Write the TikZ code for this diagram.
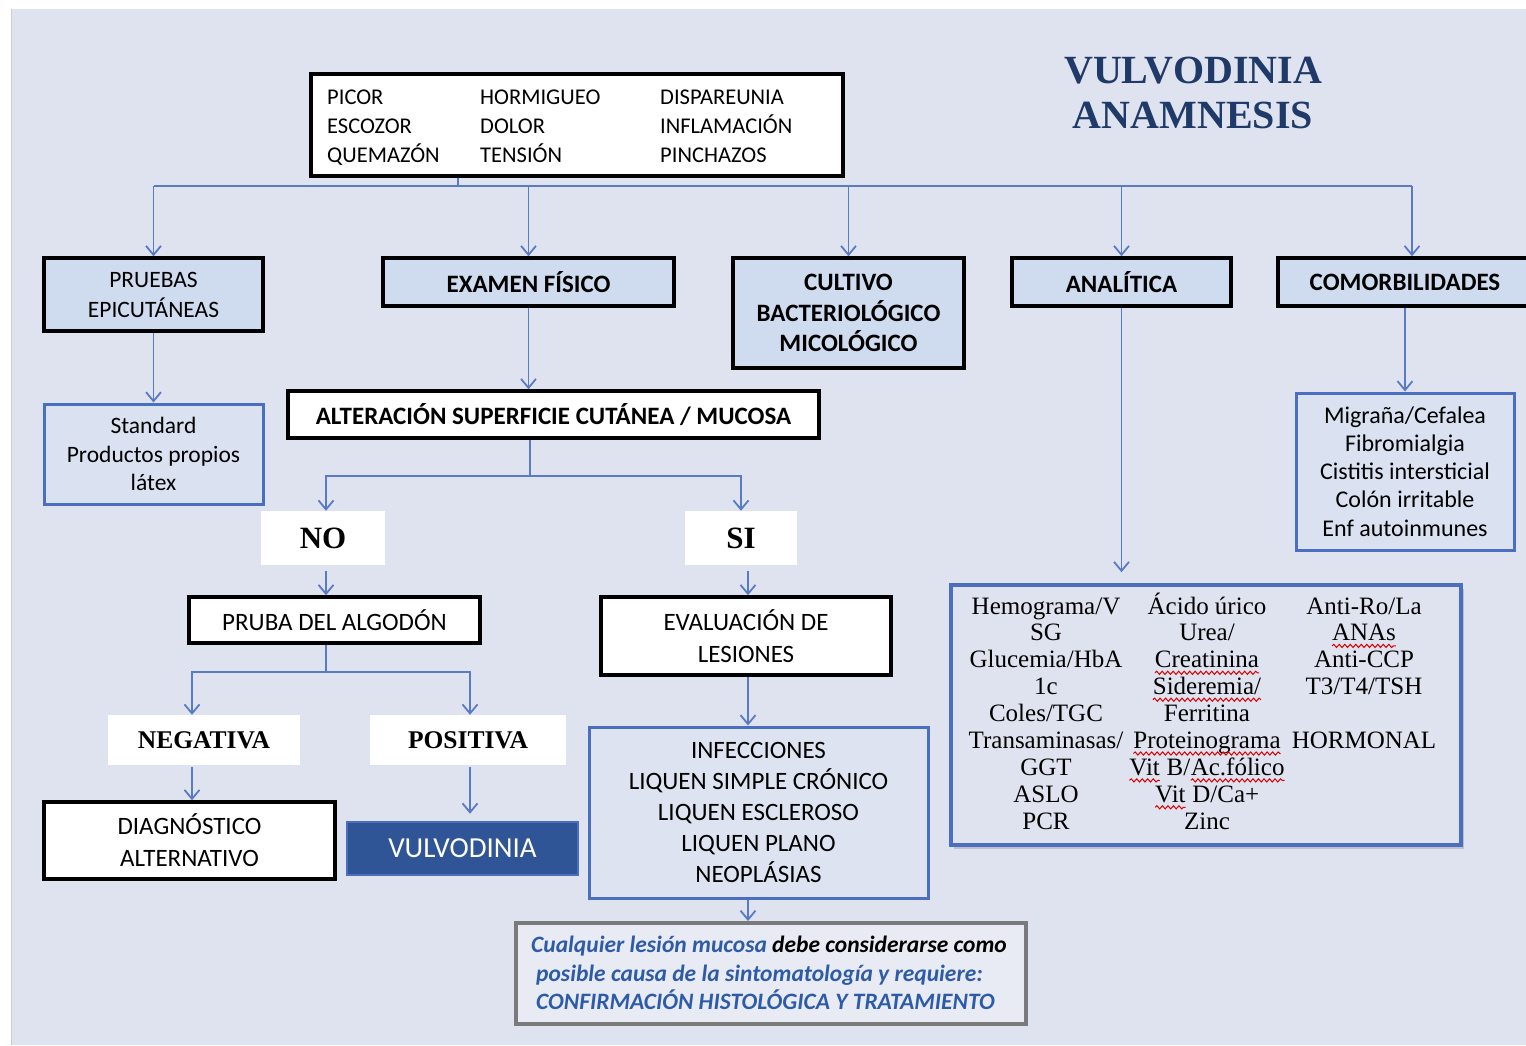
\documentclass[tikz,border=0pt]{standalone}
\usepackage{fontspec}
\usetikzlibrary{arrows.meta,shadows,calc,decorations.pathmorphing}
\setmainfont{Carlito}
\newfontfamily\serif{Liberation Serif}
\definecolor{bgc}{HTML}{DFE3EF}
\definecolor{boxblue}{HTML}{CFDBEF}
\definecolor{lightfill}{HTML}{DAE2F2}
\definecolor{lineblue}{HTML}{5A7AC6}
\definecolor{borderblue}{HTML}{4A6EC0}
\definecolor{darkblue}{HTML}{2F5597}
\definecolor{titleblue}{HTML}{1F3A68}
\definecolor{noteblue}{HTML}{2E5BA8}
\definecolor{notegray}{HTML}{7A7A7A}
\newcommand\fs[2]{\fontsize{#1}{#2}\selectfont}
\newcommand\redwave[1]{\tikz[baseline=(w.base)]{\node[inner sep=0pt,outer sep=0pt,anchor=base](w) at (0,0){#1};\draw[red!85!black, line width=1pt, decorate, decoration={snake,amplitude=1.6pt,segment length=5.5pt}] ([yshift=-5pt]w.base west) -- ([yshift=-5pt]w.base east);}}
\tikzset{
  blk/.style={draw=black, line width=3.5pt, fill=white, align=center, inner sep=0pt},
  blkfill/.style={blk, fill=boxblue},
  bluebox/.style={draw=borderblue, line width=3pt, fill=lightfill, align=center, inner sep=0pt},
  wlabel/.style={fill=white, draw=none, align=center, inner sep=0pt, font=\serif\bfseries\fs{25.5}{30}},
  wlabelbig/.style={wlabel, font=\serif\bfseries\fs{31}{36}},
  line/.style={draw=lineblue, line width=1.8pt},
  conn/.style={line, -{Straight Barb[length=9pt,width=15pt]}},
  reg/.style={font=\fs{25}{31.5}},
  bld/.style={font=\bfseries\fs{25}{30.5}},
  col/.style={anchor=base, inner sep=0pt, font=\serif\fs{25}{26.9}},
}
\begin{document}
\begin{tikzpicture}[x=1pt,y=-1pt]
\useasboundingbox (0,0) rectangle (1526,1045);
\fill[white] (0,0) rectangle (1526,1045);
\fill[bgc] (11,9) rectangle (1526,1045);
\draw[gray!40, line width=1pt] (11,9) -- (11,1045);

% title
\node[font=\serif\bfseries\fs{40}{45}, text=titleblue, align=center, inner sep=0pt] (title) at (1193,93) {VULVODINIA\\ANAMNESIS};

% symptoms box
\node[blk, minimum width=532pt, minimum height=102pt] (sym) at (577,125) {};
\node[anchor=west, inner sep=0pt, font=\fs{22.5}{29}] (symtxt) at (327,128) {\begin{tabular}{@{}p{153pt}@{}p{180pt}@{}l@{}}
PICOR & HORMIGUEO & DISPAREUNIA\\
ESCOZOR & DOLOR & INFLAMACIÓN\\
QUEMAZÓN & TENSIÓN & PINCHAZOS
\end{tabular}};

% first row
\node[blkfill, reg, font=\fs{23.5}{30}, minimum width=219pt, minimum height=73pt] (pe) at (153.5,294.5) {PRUEBAS\\EPICUTÁNEAS};
\node[blkfill, bld, minimum width=291pt, minimum height=48pt] (ex) at (528.5,282) {EXAMEN FÍSICO};
\node[blkfill, bld, minimum width=231pt, minimum height=110pt] (cu) at (848.5,313) {CULTIVO\\BACTERIOLÓGICO\\MICOLÓGICO};
\node[blkfill, bld, minimum width=219pt, minimum height=48pt] (an) at (1121.5,282) {ANALÍTICA};
\node[blkfill, bld, minimum width=254pt, minimum height=48pt] (co) at (1405,282) {};
\node[bld, inner sep=0pt] (cotxt) at (1405,282) {COMORBILIDADES};

% second row
\node[bluebox, font=\fs{23.5}{28.5}, minimum width=219pt, minimum height=100pt] (std) at (153.5,454) {Standard\\Productos propios\\látex};
\node[blk, bld, minimum width=531pt, minimum height=47pt] (alt) at (553.5,414.5) {ALTERACIÓN SUPERFICIE CUTÁNEA / MUCOSA};
\node[bluebox, font=\fs{24}{28.2}, minimum width=218pt, minimum height=157pt] (cl) at (1405,471.5) {Migraña/Cefalea\\Fibromialgia\\Cistitis intersticial\\Colón irritable\\Enf autoinmunes};

% NO / SI
\node[wlabelbig, minimum width=124pt, minimum height=54pt] (no) at (323,538) {NO};
\node[wlabelbig, minimum width=112pt, minimum height=54pt] (si) at (741,538) {SI};

\node[blk, reg, minimum width=291pt, minimum height=46pt] (pr) at (334.5,620) {PRUBA DEL ALGODÓN};
\node[blk, reg, font=\fs{25}{32}, minimum width=290pt, minimum height=78pt] (ev) at (746,636) {EVALUACIÓN DE\\LESIONES};

\node[wlabel, minimum width=192pt, minimum height=50pt] (neg) at (204,740) {NEGATIVA};
\node[wlabel, minimum width=196pt, minimum height=50pt] (pos) at (468,740) {POSITIVA};

\node[blk, reg, font=\fs{25}{32}, minimum width=291pt, minimum height=77pt] (dg) at (189.5,840.5) {DIAGNÓSTICO\\ALTERNATIVO};
\node[draw=borderblue, line width=2.5pt, fill=darkblue, text=white, font=\fs{29}{34}, inner sep=0pt, minimum width=231pt, minimum height=53pt] (vul) at (462.5,848.5) {VULVODINIA};

\node[bluebox, fill=bgc!60!lightfill, font=\fs{25}{31}, minimum width=339pt, minimum height=171pt] (inf) at (758.5,812.5) {INFECCIONES\\LIQUEN SIMPLE CRÓNICO\\LIQUEN ESCLEROSO\\LIQUEN PLANO\\NEOPLÁSIAS};

% analytics box
\node[draw=borderblue, line width=3.5pt, fill=bgc, drop shadow={shadow xshift=3pt, shadow yshift=-4pt, opacity=0.35}, minimum width=510pt, minimum height=260pt, inner sep=0pt] (lab) at (1206,715) {};
\node[col] (lab1) at (1046,614) {\begin{tabular}[t]{@{}c@{}}Hemograma/V\\SG\\Glucemia/HbA\\1c\\Coles/TGC\\Transaminasas/\\GGT\\ASLO\\PCR\end{tabular}};
\node[col] (lab2) at (1207,614) {\begin{tabular}[t]{@{}c@{}}Ácido úrico\\Urea/\\\redwave{Creatinina}\\\redwave{Sideremia/}\\Ferritina\\\redwave{Proteinograma}\\\redwave{Vit} B/\redwave{Ac.fólico}\\\redwave{Vit} D/Ca+\\Zinc\end{tabular}};
\node[col] (lab3) at (1364,614) {\begin{tabular}[t]{@{}c@{}}Anti-Ro/La\\\redwave{ANAs}\\Anti-CCP\\T3/T4/TSH\\ \\HORMONAL\end{tabular}};

% note box
\node[draw=notegray, line width=4pt, fill=bgc!70!white, minimum width=510pt, minimum height=101pt, inner sep=0pt] (note) at (771,973.5) {};
\node[anchor=west, align=left, inner sep=0pt, text=noteblue, font=\bfseries\itshape\fs{23.5}{28.5}] (notetxt) at (531,973) {Cualquier lesión mucosa \textcolor{black}{debe considerarse como}\\\hspace*{5pt}posible causa de la sintomatología y requiere:\\\hspace*{5pt}CONFIRMACIÓN HISTOLÓGICA Y TRATAMIENTO};

% connectors
\coordinate (busJ) at (458,186);
\coordinate (busR) at (1412,186);
\draw[line] (busJ |- sym.south) -- (busJ);
\draw[line] (pe.north |- busJ) -- (busR);
\draw[conn] (pe.north |- busJ) -- (pe.north);
\draw[conn] (ex.north |- busJ) -- (ex.north);
\draw[conn] (cu.north |- busJ) -- (cu.north);
\draw[conn] (an.north |- busJ) -- (an.north);
\draw[conn] (busR) -- (busR |- co.north);

\draw[conn] (pe.south) -- (std.north);
\draw[conn] (ex.south) -- (ex.south |- alt.north);
\coordinate (brA) at (530,476);
\draw[line] (brA |- alt.south) -- (brA);
\draw[conn] (brA) -| ([xshift=3pt]no.north);
\draw[conn] (brA) -| (si.north);
\draw[conn] (an.south) -- ($(an.south |- lab.north)+(0,-11)$);
\draw[conn] (cl.north |- co.south) -- (cl.north);

\coordinate (noB) at (326,571);
\draw[conn] (noB) -- (noB |- pr.north);
\coordinate (siB) at (748,571);
\draw[conn] (siB) -- (siB |- ev.north);

\coordinate (brB) at (326,672);
\draw[line] (brB |- pr.south) -- (brB);
\draw[conn] (brB) -| ([xshift=-12pt]neg.north);
\draw[conn] (brB) -| ([xshift=2pt]pos.north);
\coordinate (negB) at (192,767);
\draw[conn] (negB) -- (negB |- dg.north);
\coordinate (posB) at (470,767);
\draw[conn] (posB) -- ($(posB |- vul.north)+(0,-7)$);

\draw[conn] (siB |- ev.south) -- (siB |- inf.north);
\draw[conn] (siB |- inf.south) -- (siB |- note.north);
\end{tikzpicture}
\end{document}
